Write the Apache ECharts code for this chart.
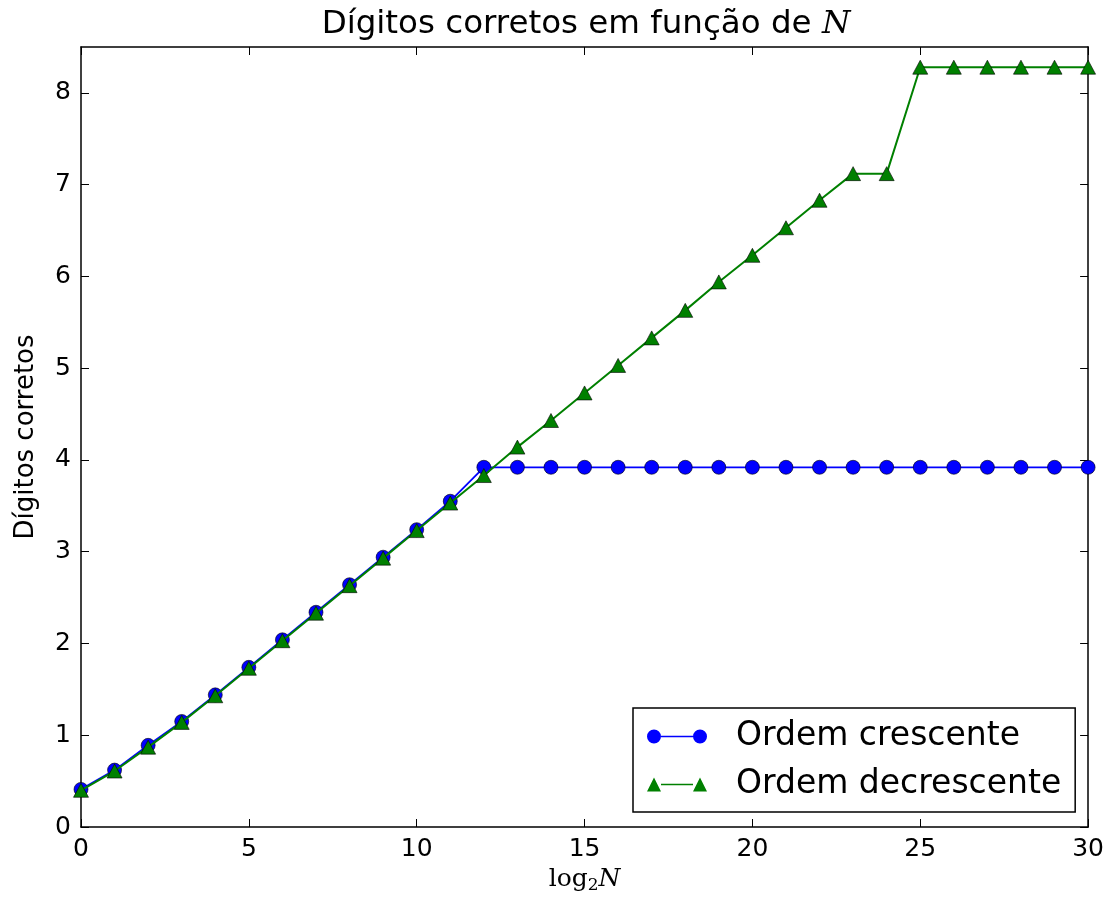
<!DOCTYPE html>
<html>
<head>
<meta charset="utf-8">
<script src="https://cdn.jsdelivr.net/npm/echarts@6/dist/echarts.min.js"></script>
<style>
html,body{margin:0;padding:0;background:#fff;}
#chart{width:1107px;height:907px;}
</style>
</head>
<body>
<div id="chart"></div>
<script>
// x values: log2 N
const xValues = [0,1,2,3,4,5,6,7,8,9,10,11,12,13,14,15,16,17,18,19,20,21,22,23,24,25,26,27,28,29,30];
// Ordem crescente
const crescente = [0.41,0.62,0.89,1.15,1.44,1.74,2.04,2.34,2.64,2.94,3.24,3.55,3.92,3.92,3.92,3.92,3.92,3.92,3.92,3.92,3.92,3.92,3.92,3.92,3.92,3.92,3.92,3.92,3.92,3.92,3.92];
// Ordem decrescente
const decrescente = [0.40,0.61,0.87,1.14,1.43,1.73,2.03,2.33,2.63,2.93,3.23,3.53,3.83,4.14,4.43,4.73,5.03,5.33,5.63,5.94,6.23,6.53,6.83,7.12,7.12,8.28,8.28,8.28,8.28,8.28,8.28];
const seriesNames = ['Ordem crescente','Ordem decrescente'];
const xTicks = [0,5,10,15,20,25,30];
const yTicks = [0,1,2,3,4,5,6,7,8];

const FONT = 'DejaVu Sans';
const chart = echarts.init(document.getElementById('chart'), null, {renderer:'canvas'});

const pair = (ys) => xValues.map((x,i) => [x, ys[i]]);

const tickStyle = {color:'#000', width:1};
const lineStyleAxis = {color:'#000', width:1.5};

const option = {
  backgroundColor:'#fff',
  animation:false,
  title:{
    text:'{a|Dígitos corretos em função de }{n|N}',
    left:581, top:3, textAlign:'center',
    textStyle:{
      fontWeight:'normal',
      rich:{
        a:{fontFamily:FONT, fontSize:32.5, fontWeight:'normal', color:'#000'},
        n:{fontFamily:'DejaVu Serif', fontStyle:'italic', fontWeight:'normal', fontSize:32.5, color:'#000'}
      }
    }
  },
  grid:{left:81, right:18, top:47, bottom:80, show:false},
  legend:{
    orient:'vertical',
    left:633, top:708,
    padding:[12,14,11,14],
    itemGap:15,
    itemWidth:60, itemHeight:15,
    backgroundColor:'#fff',
    borderColor:'#000', borderWidth:1.5,
    borderRadius:0,
    textStyle:{fontFamily:FONT, fontSize:33, color:'#000', padding:[0,0,0,24]},
    data:[
      {name:seriesNames[0], icon:'path://M0,7.5a7,7 0 1,0 14,0a7,7 0 1,0 -14,0Z M14,6.8h32v1.4h-32Z M46,7.5a7,7 0 1,0 14,0a7,7 0 1,0 -14,0Z',
       itemStyle:{color:'#0000ff', borderWidth:0}},
      {name:seriesNames[1], icon:'path://M0,15L7,1L14,15Z M14,7.3h32v1.4h-32Z M46,15L53,1L60,15Z',
       itemStyle:{color:'#008000', borderWidth:0}}
    ]
  },
  xAxis:[
    {type:'value', min:0, max:30, interval:5, position:'bottom',
     name:'{l|log}{s|2}{n|N}', nameLocation:'middle', nameGap:36,
     nameTextStyle:{rich:{
       l:{fontFamily:'DejaVu Serif', fontSize:25, color:'#000'},
       s:{fontFamily:'DejaVu Serif', fontSize:17, color:'#000', padding:[12,0,0,0]},
       n:{fontFamily:'DejaVu Serif', fontStyle:'italic', fontSize:25, color:'#000'}
     }},
     axisLine:{show:true, onZero:false, lineStyle:lineStyleAxis},
     axisTick:{show:true, inside:true, length:8, lineStyle:tickStyle, customValues:xTicks},
     axisLabel:{fontFamily:FONT, fontSize:25, color:'#000', margin:10, customValues:xTicks},
     splitLine:{show:false}},
    {type:'value', min:0, max:30, interval:5, position:'top',
     axisLine:{show:true, onZero:false, lineStyle:lineStyleAxis},
     axisTick:{show:true, inside:true, length:8, lineStyle:tickStyle, customValues:xTicks},
     axisLabel:{show:false}, splitLine:{show:false}}
  ],
  yAxis:[
    {type:'value', min:0, max:8.5, interval:1, position:'left',
     name:'Dígitos corretos', nameLocation:'middle', nameGap:42, nameRotate:90,
     nameTextStyle:{fontFamily:FONT, fontSize:26, color:'#000'},
     axisLine:{show:true, onZero:false, lineStyle:lineStyleAxis},
     axisTick:{show:true, inside:true, length:8, lineStyle:tickStyle, customValues:yTicks},
     axisLabel:{fontFamily:FONT, fontSize:25, color:'#000', margin:10, customValues:yTicks},
     splitLine:{show:false}},
    {type:'value', min:0, max:8.5, interval:1, position:'right',
     axisLine:{show:true, onZero:false, lineStyle:lineStyleAxis},
     axisTick:{show:true, inside:true, length:8, lineStyle:tickStyle, customValues:yTicks},
     axisLabel:{show:false}, splitLine:{show:false}}
  ],
  series:[
    {name:seriesNames[0], type:'line', data:pair(crescente), xAxisIndex:0, yAxisIndex:0,
     symbol:'circle', symbolSize:14, clip:true,
     lineStyle:{color:'#0000ff', width:1.8},
     itemStyle:{color:'#0000ff', borderColor:'#000', borderWidth:0.6},
     z:2},
    {name:seriesNames[1], type:'line', data:pair(decrescente), xAxisIndex:0, yAxisIndex:0,
     symbol:'triangle', symbolSize:[15,14], clip:true,
     lineStyle:{color:'#008000', width:2},
     itemStyle:{color:'#008000', borderColor:'#000', borderWidth:0.6},
     z:3}
  ]
};
chart.setOption(option);
</script>
</body>
</html>
